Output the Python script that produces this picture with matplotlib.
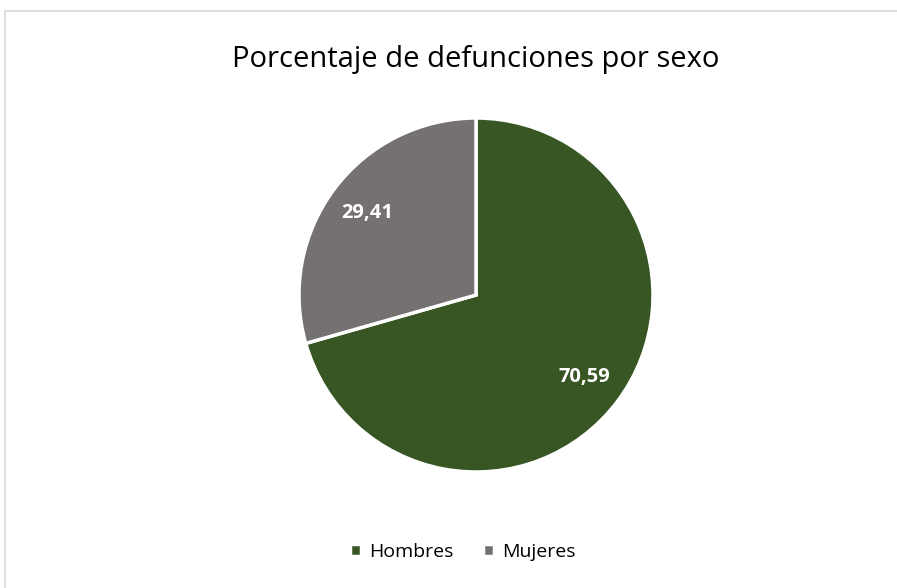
import matplotlib.pyplot as plt
from matplotlib.lines import Line2D

plt.rcParams["font.family"] = ["Open Sans", "DejaVu Sans"]

categorias = ["Hombres", "Mujeres"]
valores = [70.59, 29.41]
colores = ["#375623", "#767171"]
titulo = "Porcentaje de defunciones por sexo"

W, H = 897, 588
fig = plt.figure(figsize=(W / 100, H / 100), dpi=100)

# chart border (only top and left edges are visible)
fig.lines.append(Line2D([4.5 / W, 4.5 / W, 1], [0, 1 - 10.5 / H, 1 - 10.5 / H],
                        transform=fig.transFigure, color="#d9d9d9", linewidth=1.2))

cx, cy, r = 476, 295, 177
ax = fig.add_axes([(cx - r) / W, (H - cy - r) / H, 2 * r / W, 2 * r / H])

wedges, texts, autotexts = ax.pie(
    valores, colors=colores, startangle=90, counterclock=False,
    radius=1, pctdistance=0.77,
    autopct=lambda p: f"{p:.2f}".replace(".", ","),
    wedgeprops=dict(edgecolor="white", linewidth=2.5))
for t in autotexts:
    t.set_color("white")
    t.set_fontsize(14.5)
    t.set_fontweight("bold")
ax.set_xlim(-1, 1)
ax.set_ylim(-1, 1)
ax.set_aspect("equal")

fig.text(cx / W, 1 - 60 / H, titulo, ha="center", va="center", fontsize=21)

fig.legend(wedges, categorias, loc="center", bbox_to_anchor=(463 / W, 1 - 552 / H),
           ncol=2, frameon=False, fontsize=14, handlelength=0.55,
           handleheight=0.55, handletextpad=0.45, columnspacing=1.5)

fig.savefig("out.png", dpi=100)
